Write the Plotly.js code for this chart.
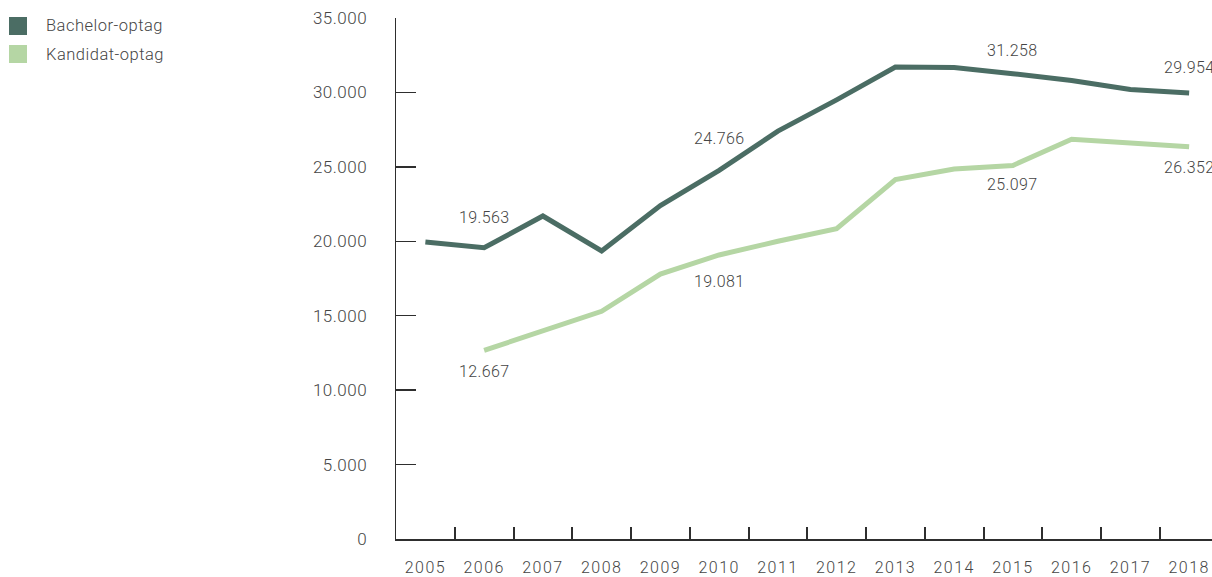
<!DOCTYPE html>
<html>
<head>
<meta charset="utf-8">
<script src="https://cdn.plot.ly/plotly-3.0.1.min.js"></script>
<style>
  html, body { margin: 0; padding: 0; background: #fff; }
  #chart { width: 1212px; height: 577px; }
  #chart .xtick text { letter-spacing: 1.5px; }
  #chart .ytick text { letter-spacing: 0.5px; }
</style>
</head>
<body>
<div id="chart"></div>
<script>
// ---- data ----
const years = ["2005","2006","2007","2008","2009","2010","2011","2012","2013","2014","2015","2016","2017","2018"];
const seriesNames = ["Bachelor-optag", "Kandidat-optag"];
const bachelor = [19950, 19563, 21700, 19350, 22400, 24766, 27400, 29500, 31700, 31680, 31258, 30800, 30200, 29954];
const kandidat = [null, 12667, 13950, 15300, 17800, 19081, 20000, 20850, 24150, 24850, 25097, 26850, 26600, 26352];
// years that carry a value label
const bachelorLabelYears = ["2006", "2010", "2015", "2018"];
const kandidatLabelYears = ["2006", "2010", "2015", "2018"];
const yTicks = [0, 5000, 10000, 15000, 20000, 25000, 30000, 35000];

// ---- style ----
const colors = ["#4b6d64", "#b5d6a4"];
const textColor = "#454545";
const axisColor = "#2e2e2e";
const fontFamily = "Roboto, 'Open Sans', sans-serif";
// vertical pixel offsets of the value labels relative to their point
const bachelorLabelShift = {"2006": 30, "2010": 32, "2015": 23, "2018": 26};
const kandidatLabelShift = {"2006": -21, "2010": -27, "2015": -19, "2018": -21};

const W = 1212, H = 577;
const margin = {l: 396, r: 0, t: 18, b: 38};
const plotW = W - margin.l - margin.r;
const catStep = 58.75;

function fmt(v) {
  return Math.round(v).toString().replace(/\B(?=(\d{3})+(?!\d))/g, ".");
}

const traces = [bachelor, kandidat].map((vals, i) => ({
  type: "scatter",
  mode: "lines",
  x: years,
  y: vals,
  name: seriesNames[i],
  line: {color: colors[i], width: 5},
  connectgaps: false,
  showlegend: false,
  hoverinfo: "x+y"
}));

const annotations = [];
function addLabels(labelYears, vals, shifts) {
  labelYears.forEach(yr => {
    const idx = years.indexOf(yr);
    annotations.push({
      xref: "x", yref: "y",
      x: idx, y: vals[idx],
      text: '<span style="letter-spacing:0.4px">' + fmt(vals[idx]) + '</span>',
      showarrow: false,
      xanchor: "center", yanchor: "middle",
      yshift: shifts[yr],
      font: {family: fontFamily, size: 16, color: textColor, weight: 300}
    });
  });
}
addLabels(bachelorLabelYears, bachelor, bachelorLabelShift);
addLabels(kandidatLabelYears, kandidat, kandidatLabelShift);

// legend drawn as squares + text in paper coordinates
const shapes = [];
const plotH = H - margin.t - margin.b;
const pxToPaperX = px => (px - margin.l) / plotW;
const pxToPaperY = py => (H - margin.b - py) / plotH;
seriesNames.forEach((name, i) => {
  const cy = 26 + i * 28;
  shapes.push({
    type: "rect", xref: "paper", yref: "paper",
    x0: pxToPaperX(9), x1: pxToPaperX(27),
    y0: pxToPaperY(cy + 9), y1: pxToPaperY(cy - 9),
    fillcolor: colors[i], line: {width: 0}
  });
  annotations.push({
    xref: "paper", yref: "paper",
    x: pxToPaperX(44), y: pxToPaperY(cy),
    xanchor: "left", yanchor: "middle",
    text: '<span style="letter-spacing:0.5px">' + name + '</span>',
    showarrow: false,
    font: {family: fontFamily, size: 16.5, color: textColor, weight: 300}
  });
});

const layout = {
  width: W, height: H,
  margin: margin,
  paper_bgcolor: "#fff",
  plot_bgcolor: "#fff",
  separators: ",.",
  showlegend: false,
  font: {family: fontFamily, color: textColor, weight: 300},
  xaxis: {
    type: "category",
    categoryorder: "array",
    categoryarray: years,
    range: [-0.5, -0.5 + plotW / catStep],
    tickson: "boundaries",
    ticks: "inside",
    ticklen: 12,
    tickwidth: 2,
    tickcolor: axisColor,
    showline: true,
    linecolor: axisColor,
    linewidth: 1.5,
    showgrid: false,
    zeroline: false,
    ticklabelstandoff: 13,
    tickfont: {family: fontFamily, size: 16, color: textColor, weight: 300}
  },
  yaxis: {
    range: [0, 35000],
    tickvals: yTicks,
    tickformat: ",d",
    ticks: "inside",
    ticklen: 20,
    tickwidth: 1.5,
    tickcolor: axisColor,
    showline: true,
    linecolor: axisColor,
    linewidth: 1.5,
    showgrid: false,
    zeroline: false,
    ticklabelstandoff: 24,
    tickfont: {family: fontFamily, size: 17, color: textColor, weight: 300}
  },
  annotations: annotations,
  shapes: shapes
};

Plotly.newPlot("chart", traces, layout, {displayModeBar: false, staticPlot: true});
</script>
</body>
</html>
